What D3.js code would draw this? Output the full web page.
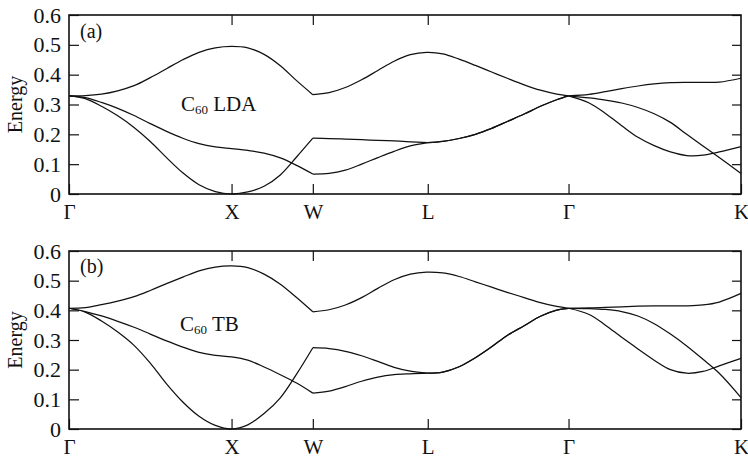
<!DOCTYPE html>
<html>
<head>
<meta charset="utf-8">
<script src="https://cdn.jsdelivr.net/npm/d3@7"></script>
<style>
  html, body { margin: 0; padding: 0; background: #fff; }
  svg { display: block; }
  text { font-family: "Liberation Serif", "Times New Roman", serif; fill: #111; }
</style>
</head>
<body>
<svg id="chart" width="748" height="459"></svg>
<script>
// High-symmetry points (positions in units of 2π/a along the path)
const kLabels = ["Γ", "X", "W", "L", "Γ", "K"];
const kPositions = [0, 1, 1.5, 2.207, 3.073, 4.134];
const yTicks = [0, 0.1, 0.2, 0.3, 0.4, 0.5, 0.6];
const yTickLabels = ["0", "0.1", "0.2", "0.3", "0.4", "0.5", "0.6"];
const panelTags = ["(a)", "(b)"];
const panelNames = ["LDA", "TB"];

// k sampling for each path section
const kGXW = [0, 0.1, 0.2, 0.3, 0.4, 0.5, 0.6, 0.7, 0.8, 0.9, 1.0, 1.1, 1.2, 1.3, 1.4, 1.5];
const kWLG = [1.5, 1.6, 1.7, 1.8, 1.9, 2.0, 2.1, 2.2, 2.3, 2.4, 2.5, 2.6, 2.7, 2.8, 2.9, 3.0, 3.073];
const kWL  = [1.5, 1.6, 1.7, 1.8, 1.9, 2.0, 2.1, 2.207];
const kLG  = [2.207, 2.3, 2.4, 2.5, 2.6, 2.7, 2.8, 2.9, 3.0, 3.073];
const kGK  = [3.073, 3.2, 3.3, 3.4, 3.5, 3.6, 3.7, 3.8, 3.9, 4.0, 4.134];

// Panel (a): C60 LDA
const ldaUpperGXW = [0.329,0.330,0.335,0.346,0.363,0.390,0.420,0.450,0.475,0.490,0.495,0.490,0.468,0.430,0.380,0.333];
const ldaUpperWLG = [0.333,0.340,0.357,0.383,0.414,0.445,0.467,0.475,0.470,0.452,0.431,0.409,0.387,0.366,0.348,0.335,0.329];
const ldaUpperGK  = [0.329,0.334,0.343,0.353,0.362,0.369,0.373,0.374,0.374,0.375,0.388];
const ldaMidGXW   = [0.329,0.323,0.307,0.287,0.263,0.236,0.210,0.187,0.169,0.158,0.152,0.146,0.137,0.121,0.096,0.067];
const ldaMidWL    = [0.067,0.069,0.080,0.100,0.122,0.143,0.161,0.172];
const ldaMidGK    = [0.329,0.322,0.315,0.305,0.290,0.269,0.240,0.200,0.161,0.122,0.069];
const ldaLowGXW   = [0.329,0.320,0.294,0.262,0.223,0.176,0.122,0.071,0.031,0.008,0.000,0.007,0.026,0.064,0.124,0.187];
const ldaLowWL    = [0.187,0.186,0.184,0.182,0.180,0.178,0.175,0.172];
const ldaLowGK    = [0.329,0.305,0.270,0.229,0.190,0.162,0.141,0.129,0.130,0.141,0.159];
const ldaLG       = [0.172,0.176,0.186,0.200,0.220,0.244,0.268,0.294,0.316,0.329];

// Panel (b): C60 TB
const tbUpperGXW = [0.407,0.409,0.419,0.431,0.446,0.467,0.490,0.512,0.533,0.546,0.550,0.544,0.522,0.488,0.443,0.395];
const tbUpperWLG = [0.395,0.402,0.418,0.443,0.474,0.503,0.522,0.529,0.526,0.514,0.496,0.478,0.460,0.443,0.426,0.413,0.407];
const tbUpperGK  = [0.407,0.408,0.410,0.412,0.414,0.415,0.415,0.415,0.418,0.428,0.457];
const tbMidGXW   = [0.407,0.396,0.381,0.363,0.343,0.320,0.297,0.276,0.258,0.248,0.243,0.232,0.209,0.183,0.155,0.121];
const tbMidWL    = [0.121,0.128,0.143,0.161,0.175,0.183,0.186,0.188];
const tbMidGK    = [0.407,0.406,0.403,0.396,0.381,0.355,0.320,0.280,0.235,0.188,0.106];
const tbLowGXW   = [0.407,0.394,0.364,0.327,0.282,0.222,0.152,0.091,0.043,0.012,0.000,0.014,0.052,0.105,0.185,0.274];
const tbLowWL    = [0.274,0.271,0.262,0.247,0.228,0.208,0.195,0.188];
const tbLowGK    = [0.407,0.386,0.350,0.309,0.270,0.232,0.200,0.188,0.194,0.213,0.238];
const tbLG       = [0.188,0.192,0.210,0.240,0.277,0.317,0.348,0.380,0.401,0.407];

const panelsData = [
  [[kGXW, ldaUpperGXW], [kWLG, ldaUpperWLG], [kGK, ldaUpperGK],
   [kGXW, ldaMidGXW], [kWL, ldaMidWL], [kLG, ldaLG], [kGK, ldaMidGK],
   [kGXW, ldaLowGXW], [kWL, ldaLowWL], [kLG, ldaLG], [kGK, ldaLowGK]],
  [[kGXW, tbUpperGXW], [kWLG, tbUpperWLG], [kGK, tbUpperGK],
   [kGXW, tbMidGXW], [kWL, tbMidWL], [kLG, tbLG], [kGK, tbMidGK],
   [kGXW, tbLowGXW], [kWL, tbLowWL], [kLG, tbLG], [kGK, tbLowGK]]
];

const svg = d3.select("#chart");
const left = 69, right = 741;
const panelTops = [15, 251];
const panelBottoms = [194, 429];
const tagPos = [[80, 38], [80, 273]];
const namePos = [[181, 111], [180, 331]];

const x = d3.scaleLinear().domain([0, kPositions[kPositions.length - 1]]).range([left, right]);

panelsData.forEach((segments, p) => {
  const y = d3.scaleLinear().domain([0, 0.6]).range([panelBottoms[p], panelTops[p]]);
  const g = svg.append("g");

  const ax = g.append("g").attr("transform", `translate(${left},0)`)
    .call(d3.axisLeft(y).tickValues(yTicks).tickSize(-10).tickPadding(8)
      .tickFormat((d, i) => yTickLabels[i]));
  const ar = g.append("g").attr("transform", `translate(${right},0)`)
    .call(d3.axisRight(y).tickValues(yTicks).tickSize(-9).tickFormat(""));
  const at = g.append("g").attr("transform", `translate(0,${panelTops[p]})`)
    .call(d3.axisTop(x).tickValues(kPositions.slice(1, -1)).tickSize(-10).tickFormat(""));
  const ab = g.append("g").attr("transform", `translate(0,${panelBottoms[p]})`)
    .call(d3.axisBottom(x).tickValues(kPositions).tickSize(-10).tickPadding(10)
      .tickFormat((d, i) => kLabels[i]));

  [ax, ar, at, ab].forEach(a => {
    a.select(".domain").remove();
    a.selectAll(".tick line").attr("stroke", "#111").attr("stroke-width", 1.2);
    a.selectAll("text").attr("font-size", 22).attr("fill", "#111");
  });
  ab.selectAll("text").attr("font-size", 21);

  g.append("rect")
    .attr("x", left).attr("y", panelTops[p])
    .attr("width", right - left).attr("height", panelBottoms[p] - panelTops[p])
    .attr("fill", "none").attr("stroke", "#111").attr("stroke-width", 1.6);

  const line = d3.line().x(d => x(d[0])).y(d => y(d[1])).curve(d3.curveCatmullRom.alpha(0.5));
  segments.forEach(([ks, es]) => {
    g.append("path").attr("d", line(d3.zip(ks, es)))
      .attr("fill", "none").attr("stroke", "#111").attr("stroke-width", 1.25);
  });

  const yc = (panelTops[p] + panelBottoms[p]) / 2;
  g.append("text").attr("transform", `translate(21.5,${yc}) rotate(-90)`)
    .attr("text-anchor", "middle").attr("font-size", 20).text("Energy");

  g.append("text").attr("x", tagPos[p][0]).attr("y", tagPos[p][1])
    .attr("font-size", 20).text(panelTags[p]);

  const t = g.append("text").attr("x", namePos[p][0]).attr("y", namePos[p][1]).attr("font-size", 21);
  t.append("tspan").text("C");
  t.append("tspan").attr("font-size", 13).attr("dy", 3).text("60");
  t.append("tspan").attr("dy", -3).text(" " + panelNames[p]);
});
</script>
</body>
</html>
